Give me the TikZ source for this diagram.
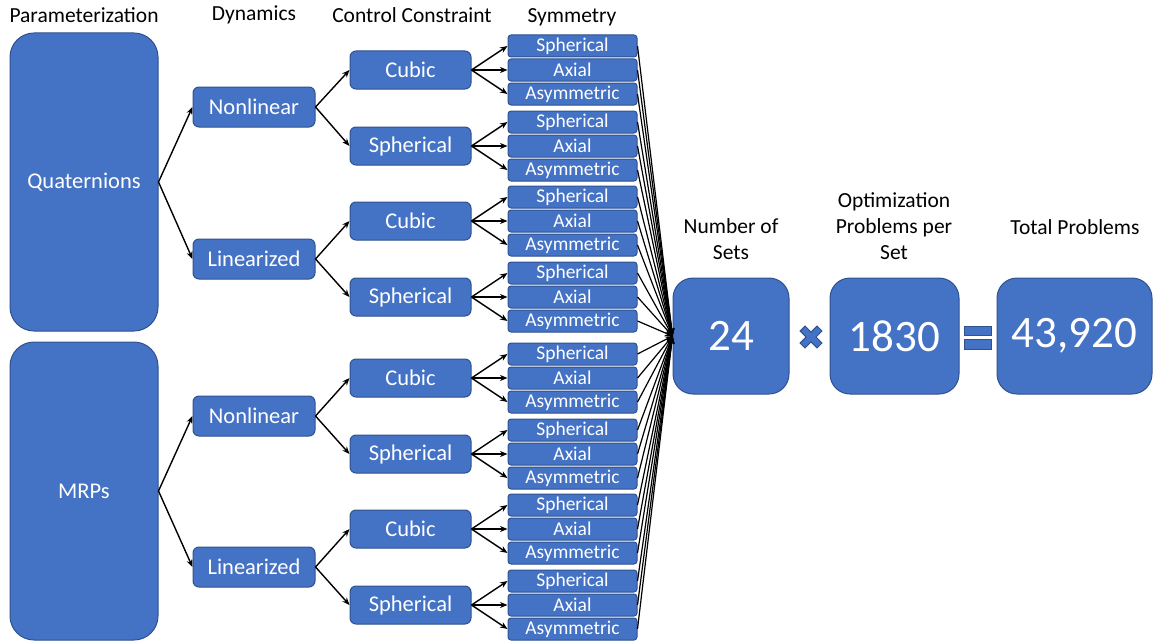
\documentclass[tikz,border=0pt]{standalone}
\usepackage{fontspec}
\setmainfont{Carlito}
\usetikzlibrary{arrows.meta}
\definecolor{boxblue}{HTML}{4472C4}
\definecolor{boxedge}{HTML}{2F528F}
\begin{document}
\begin{tikzpicture}[x=1pt,y=-1pt,
  blk/.style={draw=boxedge, fill=boxblue, line width=1pt, text=white, inner sep=0pt, anchor=center},
  big/.style={blk, minimum width=148pt, minimum height=298pt, rounded corners=24pt, font=\fontsize{22.5}{24}\selectfont},
  dyn/.style={blk, minimum width=122pt, minimum height=40pt, rounded corners=6pt, font=\fontsize{22.5}{24}\selectfont},
  ctl/.style={blk, minimum width=121pt, minimum height=38pt, rounded corners=6pt, font=\fontsize{22.5}{24}\selectfont},
  sym/.style={blk, minimum width=129pt, minimum height=22pt, rounded corners=3pt, font=\fontsize{19.5}{20}\selectfont},
  num/.style={blk, minimum height=116pt, rounded corners=20pt, font=\fontsize{45}{48}\selectfont},
  head/.style={font=\fontsize{21.5}{26}\selectfont, align=center, inner sep=0pt},
  arr/.style={-{Stealth[length=7.5pt,width=6pt]}, line width=1.4pt},
  opsym/.style={fill=boxblue, draw=boxedge, line width=1pt},
]
\useasboundingbox (0,0) rectangle (1153,642);
% headings
\node[head] (h1) at (84,15) {Parameterization};
\node[head] (h2) at (254,15) {Dynamics};
\node[head] (h3) at (412,15) {Control Constraint};
\node[head] (h4) at (572,17) {Symmetry};
\node[head] (h5) at (731,239) {Number of\\Sets};
\node[head] (h6) at (894,226) {Optimization\\Problems per\\Set};
\node[head] (h7) at (1075,227) {Total Problems};
% parameterization
\node[big] (q) at (84,182) {Quaternions};
\node[big] (m) at (84,491) {MRPs};
% dynamics
\foreach \i/\y/\lab in {1/107/Nonlinear,2/259/Linearized,3/416/Nonlinear,4/567/Linearized}
  \node[dyn] (d\i) at (254,\y) {\lab};
% control + symmetry
\foreach \j/\y/\lab in {1/70/Cubic,2/146/Spherical,3/221/Cubic,4/297/Spherical,5/378/Cubic,6/454/Spherical,7/529/Cubic,8/605/Spherical} {
  \node[ctl] (c\j) at (410.5,\y) {\lab};
  \foreach \k/\t/\dy in {1/Spherical/-24,2/Axial/0,3/Asymmetric/24} {
    \pgfmathtruncatemacro{\n}{3*(\j-1)+\k}
    \pgfmathsetmacro{\yy}{\y+\dy}
    \node[sym] (s\n) at (572.5,\yy) {\t};
  }
}
% number boxes
\node[num, minimum width=116pt] (n24) at (731,336) {24};
\node[num, minimum width=129pt] (n1830) at (894.5,336) {1830};
\node[num, minimum width=155pt] (ntot) at (1074.5,336) {43,920};
% operators
\draw[opsym, shift={(811,337)}, rotate=45]
  (-3.5,-12) -- (3.5,-12) -- (3.5,-3.5) -- (12,-3.5) -- (12,3.5) -- (3.5,3.5) -- (3.5,12) -- (-3.5,12) -- (-3.5,3.5) -- (-12,3.5) -- (-12,-3.5) -- (-3.5,-3.5) -- cycle;
\draw[opsym] (964,326) rectangle (991,335.5);
\draw[opsym] (964,339.5) rectangle (991,349);
% connectors
\draw[arr] (q.east) -- (d1.west);
\draw[arr] (q.east) -- (d2.west);
\draw[arr] (m.east) -- (d3.west);
\draw[arr] (m.east) -- (d4.west);
\foreach \i in {1,...,4} {
  \pgfmathtruncatemacro{\a}{2*\i-1}
  \pgfmathtruncatemacro{\b}{2*\i}
  \draw[arr] (d\i.east) -- (c\a.west);
  \draw[arr] (d\i.east) -- (c\b.west);
}
\foreach \j in {1,...,8} {
  \foreach \k in {1,2,3} {
    \pgfmathtruncatemacro{\n}{3*(\j-1)+\k}
    \draw[arr] (c\j.east) -- (s\n.west);
  }
}
\foreach \n in {1,...,24}
  \draw[arr, line width=1.2pt] (s\n.east) -- (n24.west);
\end{tikzpicture}
\end{document}
